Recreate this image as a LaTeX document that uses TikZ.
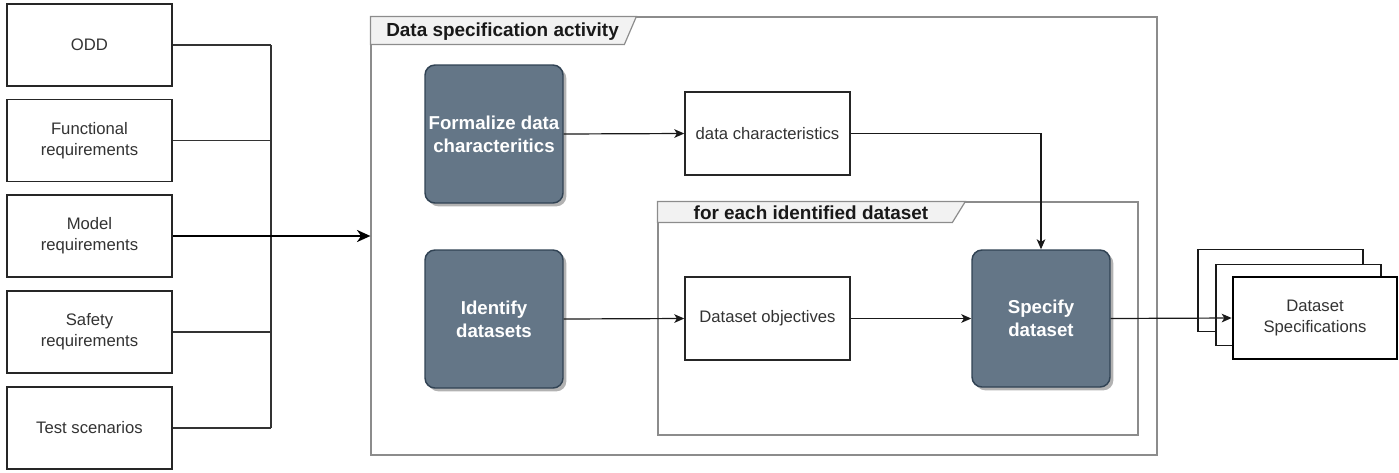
\documentclass[tikz,border=0pt]{standalone}
\usepackage{fontspec}
\setmainfont{Liberation Sans}
\usetikzlibrary{arrows.meta,shadows}
\definecolor{slate}{HTML}{647687}
\definecolor{slateline}{HTML}{314354}
\definecolor{framegray}{HTML}{8C8C8C}
\definecolor{tabfill}{HTML}{F2F2F2}
\definecolor{txt}{HTML}{333333}
\begin{document}
\begin{tikzpicture}[x=0.75pt,y=-0.75pt,
  inbox/.style={draw=black!85, line width=1.4pt, fill=white, minimum width=123.75pt, minimum height=61.5pt,
    align=center, text=txt, font=\fontsize{12.5}{15.5}\selectfont, inner sep=2pt},
  plainbox/.style={draw=black!85, line width=1.1pt, fill=white, minimum width=123.75pt, minimum height=62.25pt,
    align=center, text=txt, font=\fontsize{12.5}{15.5}\selectfont, inner sep=2pt},
  activity/.style={draw=slateline, line width=1.1pt, fill=slate, rounded corners=7.5pt,
    minimum width=103.5pt, minimum height=103.5pt, align=center, text=white,
    font=\bfseries\fontsize{14}{17}\selectfont, inner sep=1pt,
    drop shadow={shadow xshift=2.5pt, shadow yshift=-2.5pt, opacity=0.3, fill=black}},
  frame/.style={draw=framegray, line width=0.9pt, fill=none},
  tabshape/.style={draw=framegray, line width=0.9pt, fill=tabfill},
  tabtext/.style={text=black!90, font=\bfseries\fontsize{14.2}{17}\selectfont, inner sep=0pt},
  conn/.style={draw=black!80, line width=0.8pt},
  arr/.style={draw=black!90, line width=0.9pt, -{Stealth[length=7.5pt,width=6.5pt,inset=2pt]}},
  bigarr/.style={draw=black, line width=2pt, -{Stealth[length=10pt,width=9pt,inset=3pt]}},
  stackbox/.style={draw=black!90, line width=0.9pt, fill=white, minimum width=123.75pt, minimum height=61pt},
  stackfront/.style={draw=black, line width=2pt, fill=white, minimum width=123pt, minimum height=61.5pt,
    align=center, text=txt, font=\fontsize{12.5}{15.5}\selectfont, inner sep=2pt}
]
\useasboundingbox (0,0) rectangle (1399,472);

% frames
\node[frame, minimum width=589.5pt, minimum height=328.5pt, inner sep=0pt] (outer) at (764,236) {};
\draw[tabshape] (outer.north west) -- ++(266,0) -- ++(-12,28) -- ++(-254,0) -- cycle;
\node[tabtext, anchor=west] (outertitle) at (386,31.5) {Data specification activity};

\node[frame, minimum width=360pt, minimum height=174.75pt, inner sep=0pt] (inner) at (898,318.5) {};
\draw[tabshape] (inner.north west) -- ++(308,0) -- ++(-13,21) -- ++(-295,0) -- cycle;
\node[tabtext] (innertitle) at (811,212.5) {for each identified dataset};

% input boxes
\node[inbox] (odd) at (89.5,45) {ODD};
\node[inbox] (func) at (89.5,140.5) {Functional\\requirements};
\node[inbox] (model) at (89.5,236) {Model\\requirements};
\node[inbox] (safety) at (89.5,332) {Safety\\requirements};
\node[inbox] (test) at (89.5,428) {Test scenarios};
\coordinate (bus) at (271,236);

\draw[conn] (odd.east) -- (odd.east -| bus);
\draw[conn] (func.east) -- (func.east -| bus);
\draw[conn] (safety.east) -- (safety.east -| bus);
\draw[conn] (test.east) -- (test.east -| bus);
\draw[conn] (odd.east -| bus) -- (test.east -| bus);
\draw[bigarr] (model.east) -- (outer.west);

% activities
\node[activity] (formalize) at (494,134) {Formalize data\\characteritics};
\node[activity] (identify) at (494,319) {Identify\\datasets};
\node[activity, minimum height=102.75pt] (specify) at (1041,318.5) {Specify\\dataset};

\node[plainbox] (datachar) at (767.5,133.5) {data characteristics};
\node[plainbox] (objectives) at (767.5,318.5) {Dataset objectives};

% output stack
\node[stackbox] (back) at (1280.5,290.5) {};
\node[stackbox] (middle) at (1298.5,305) {};
\node[stackfront] (front) at (1315,318) {Dataset\\Specifications};

% connectors
\draw[arr] (formalize.east) -- (datachar.west);
\draw[arr] (datachar.east) -| (specify.north);
\draw[arr] (identify.east) -- (objectives.west);
\draw[arr] (objectives.east) -- (specify.west);
\draw[arr] (specify.east) -- (front.west);
\end{tikzpicture}
\end{document}
